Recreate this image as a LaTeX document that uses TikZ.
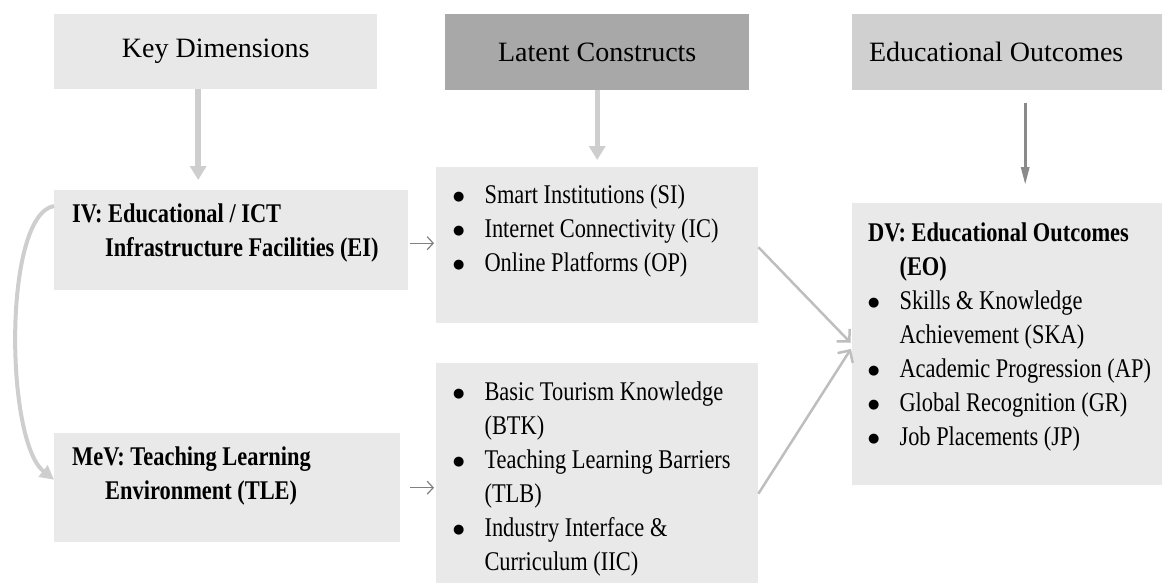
\documentclass[tikz,border=0pt]{standalone}
\usepackage{fontspec}
\setmainfont{Liberation Serif}
\newfontfamily\bodyfont{Liberation Serif}[FakeStretch=0.83]
\newfontfamily\dotfont{DejaVu Sans}
\usetikzlibrary{arrows.meta}
\definecolor{boxL}{RGB}{232,232,232}
\definecolor{boxD}{RGB}{168,168,168}
\definecolor{boxM}{RGB}{208,208,208}
\definecolor{boxP}{RGB}{233,233,233}
\definecolor{arrL}{RGB}{206,206,206}
\definecolor{arrD}{RGB}{138,138,138}
\definecolor{arrS}{RGB}{128,128,128}
\definecolor{arrJ}{RGB}{190,190,190}
% a heavier list bullet
\newcommand{\dotmark}{\raisebox{3pt}{\dotfont\fontsize{13}{13}\selectfont ●}}

\tikzset{
  panel/.style={fill=boxP,anchor=north west,inner sep=0pt},
  head/.style={panel,font=\fontsize{28}{34}\selectfont},
  body/.style={anchor=north west,inner sep=0pt,align=left,font=\bodyfont\fontsize{27}{34}\selectfont},
  fatarrow/.style={draw=arrL,line width=6pt,-{Triangle[length=14pt,width=16pt]}},
  darkarrow/.style={draw=arrD,line width=3pt,-{Triangle[length=18pt,width=8pt]}},
  smallarrow/.style={draw=arrS,line width=1.2pt,-{Straight Barb[length=6pt,width=13pt]}},
  joinarrow/.style={draw=arrJ,line width=2.5pt,-{Straight Barb[length=9pt,width=18pt]}},
  bendarrow/.style={draw=arrL,line width=4pt,-{Triangle[length=14pt,width=14pt]}}
}

\begin{document}
\begin{tikzpicture}[x=1pt,y=-1pt]
\useasboundingbox (0,0) rectangle (1162,582);
% column headings
\node[head,fill=boxL,minimum width=323pt,minimum height=75pt] (kd) at (54,14) {Key Dimensions};
\node[head,fill=boxD,minimum width=304pt,minimum height=76pt] (lc) at (445,14) {Latent Constructs};
\node[head,fill=boxM,minimum width=310pt,minimum height=76pt] (eo) at (852,14) {Educational Outcomes\hspace*{22pt}};
% panels
\node[panel,minimum width=354pt,minimum height=100pt] (ei) at (54,190) {};
\node[panel,minimum width=346pt,minimum height=109pt] (tle) at (54,433) {};
\node[panel,minimum width=322pt,minimum height=156pt] (si) at (436,167) {};
\node[panel,minimum width=322pt,minimum height=225pt] (btk) at (436,363) {};
\node[panel,minimum width=310pt,minimum height=282pt] (dv) at (852,203) {};
% panel texts
\node[body] (eiT) at (72,204) {\textbf{IV: Educational / ICT}\\\hspace*{33pt}\textbf{Infrastructure Facilities (EI)}};
\node[body] (tleT) at (72,447) {\textbf{MeV: Teaching Learning}\\\hspace*{33pt}\textbf{Environment (TLE)}};
\node[body] (siT) at (453,179) {\begin{tabular}{@{}l@{\hspace{20pt}}l@{}}
  \dotmark & Smart Institutions (SI)\\
  \dotmark & Internet Connectivity (IC)\\
  \dotmark & Online Platforms (OP)
\end{tabular}};
\node[body] (btkT) at (453,376) {\begin{tabular}{@{}l@{\hspace{20pt}}l@{}}
  \dotmark & Basic Tourism Knowledge\\
           & (BTK)\\
  \dotmark & Teaching Learning Barriers\\
           & (TLB)\\
  \dotmark & Industry Interface \&\\
           & Curriculum (IIC)
\end{tabular}};
\node[body] (dvT) at (868,217) {\begin{tabular}{@{}l@{\hspace{20pt}}l@{}}
  \multicolumn{2}{@{}l@{}}{\textbf{DV: Educational Outcomes}}\\
           & \textbf{(EO)}\\
  \dotmark & Skills \& Knowledge\\
           & Achievement (SKA)\\
  \dotmark & Academic Progression (AP)\\
  \dotmark & Global Recognition (GR)\\
  \dotmark & Job Placements (JP)
\end{tabular}};
% heading arrows
\draw[fatarrow,shorten >=10pt] ([xshift=-17.5pt]kd.south) -- ([xshift=-17.5pt]kd.south |- ei.north);
\draw[fatarrow,line width=5pt,shorten >=7pt] (lc.south) -- (lc.south |- si.north);
\draw[darkarrow,shorten <=13pt,shorten >=18pt] ([xshift=18pt]eo.south) -- ([xshift=18pt]eo.south |- dv.north);
% links between panels
\draw[smallarrow,shorten <=2pt,shorten >=2pt] ([yshift=-3pt]ei.east) -- ([yshift=-3pt]ei.east -| si.west);
\draw[smallarrow,shorten <=10pt,shorten >=2pt] (tle.east) -- (tle.east -| btk.west);
\draw[joinarrow,shorten >=2pt] ([yshift=-2pt]si.east) -- (dv.west);
\draw[joinarrow,shorten >=2pt] ([yshift=-18pt]btk.east) -- ([yshift=-3pt]dv.west);
\draw[bendarrow] ([yshift=-16pt]ei.north west) .. controls +(-51,9) and +(-49,-39) .. ([yshift=8pt]tle.west);
\end{tikzpicture}
\end{document}
